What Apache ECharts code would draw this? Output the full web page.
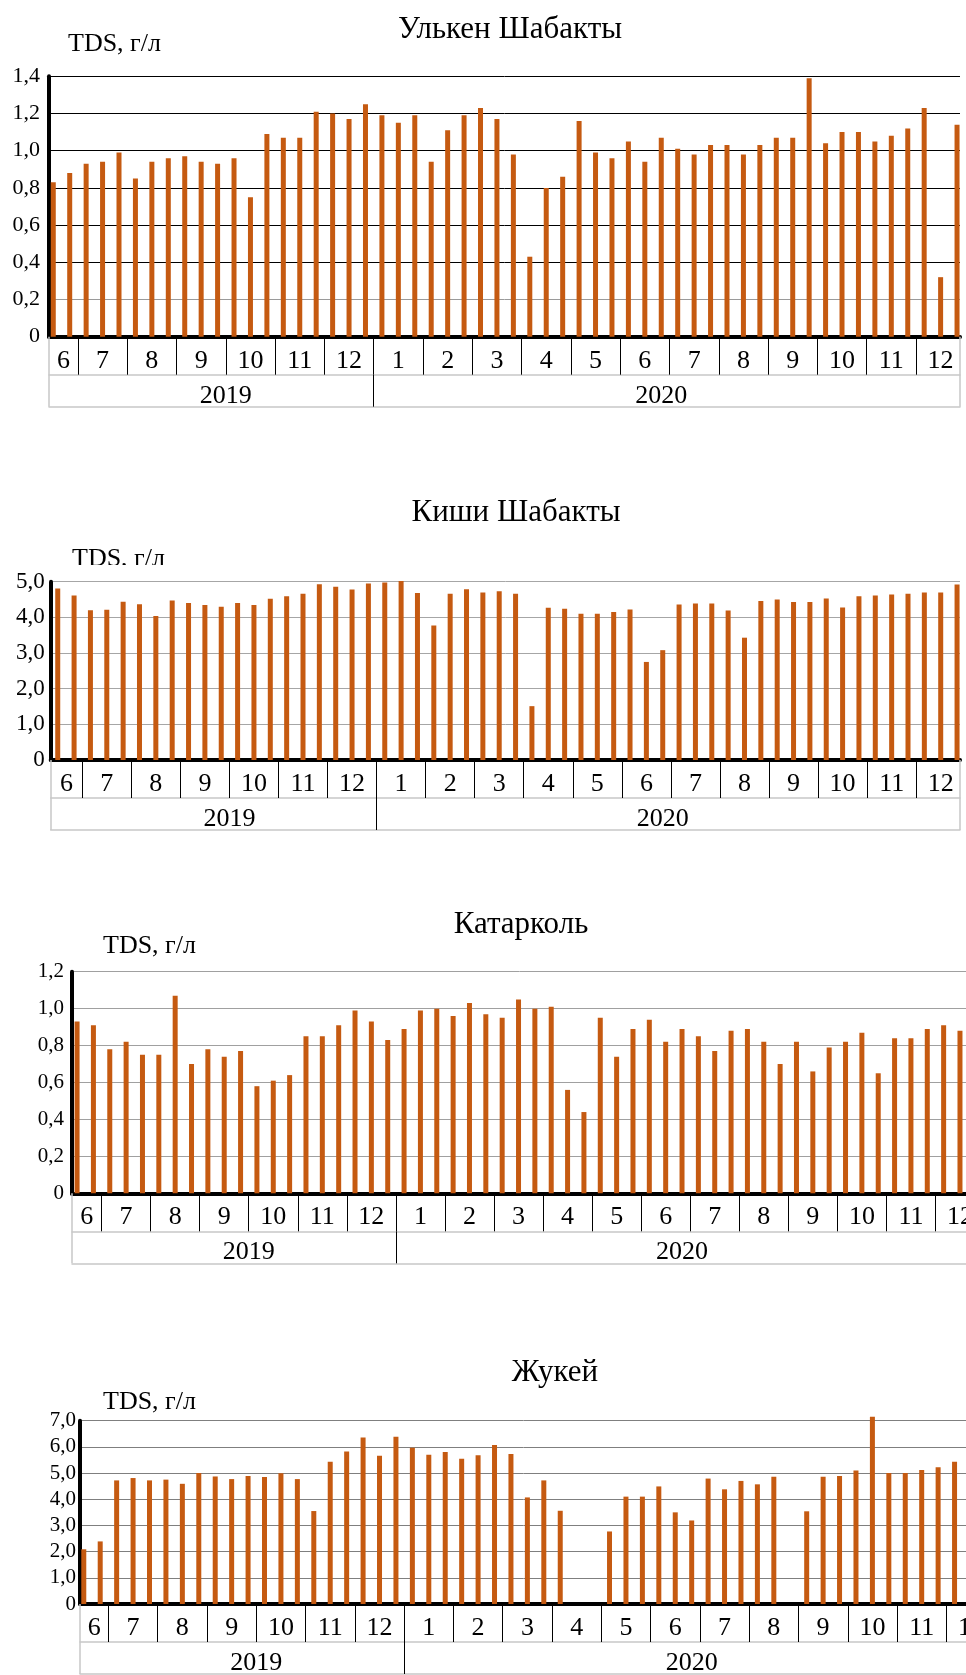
<!DOCTYPE html>
<html>
<head>
<meta charset="utf-8">
<script src="https://cdn.jsdelivr.net/npm/echarts@6/dist/echarts.min.js"></script>
<style>
html,body{margin:0;padding:0;background:#fff}
#c{width:966px;height:1675px}
</style>
</head>
<body>
<div id="c"></div>
<script>
// ---------------- DATA ----------------
const monthLabels = ['6','7','8','9','10','11','12','1','2','3','4','5','6','7','8','9','10','11','12'];
const barsPerMonth = [2,3,3,3,3,3,3,3,3,3,3,3,3,3,3,3,3,3,3];
const yearLabels = ['2019','2020'];
const monthsPerYear = [7,12];
const unitLabel = 'TDS, г/л';

const ulkenTitle = 'Улькен Шабакты';
const ulkenValues = [0.83,0.88,0.93,0.94,0.99,0.85,0.94,0.96,0.97,0.94,
  0.93,0.96,0.75,1.09,1.07,1.07,1.21,1.20,1.17,1.25,
  1.19,1.15,1.19,0.94,1.11,1.19,1.23,1.17,0.98,0.43,
  0.80,0.86,1.16,0.99,0.96,1.05,0.94,1.07,1.01,0.98,
  1.03,1.03,0.98,1.03,1.07,1.07,1.39,1.04,1.10,1.10,
  1.05,1.08,1.12,1.23,0.32,1.14];

const kishiTitle = 'Киши Шабакты';
const kishiValues = [4.81,4.61,4.20,4.21,4.44,4.37,4.04,4.47,4.40,4.35,
  4.30,4.40,4.35,4.52,4.59,4.66,4.93,4.86,4.78,4.95,
  4.98,5.02,4.68,3.77,4.66,4.79,4.70,4.73,4.66,1.51,
  4.27,4.24,4.10,4.10,4.15,4.22,2.75,3.08,4.36,4.39,
  4.39,4.19,3.43,4.46,4.50,4.43,4.43,4.53,4.28,4.59,
  4.61,4.64,4.66,4.70,4.70,4.92];

const katarkolTitle = 'Катарколь';
const katarkolValues = [0.93,0.91,0.78,0.82,0.75,0.75,1.07,0.70,0.78,0.74,
  0.77,0.58,0.61,0.64,0.85,0.85,0.91,0.99,0.93,0.83,
  0.89,0.99,1.00,0.96,1.03,0.97,0.95,1.05,1.00,1.01,
  0.56,0.44,0.95,0.74,0.89,0.94,0.82,0.89,0.85,0.77,
  0.88,0.89,0.82,0.70,0.82,0.66,0.79,0.82,0.87,0.65,
  0.84,0.84,0.89,0.91,0.88];

const zhukeiTitle = 'Жукей';
const zhukeiValues = [2.09,2.39,4.72,4.81,4.72,4.75,4.59,5.00,4.87,4.77,
  4.89,4.85,4.99,4.77,3.55,5.43,5.82,6.36,5.66,6.39,
  5.97,5.70,5.80,5.55,5.68,6.07,5.73,4.07,4.72,3.56,
  null,null,2.77,4.10,4.10,4.49,3.50,3.19,4.79,4.38,
  4.70,4.57,4.86,null,3.54,4.86,4.89,5.10,7.15,5.00,
  5.00,5.12,5.22,5.43];

// ---------------- LAYOUT / STYLE ----------------
const BAR_COLOR = '#C55A11';
const SERIF = '"Liberation Serif", "Times New Roman", serif';
const yearLabelAt = [10.5, 37];

const charts = [
  {title: ulkenTitle, values: ulkenValues, yMax: 1.4, yStep: 0.2,
   top: 76.3, height: 260.4, left: 49, width: 911, xMin: -0.26, xMax: 55.18,
   gridColors: ['#000','#9a9a9a','#000','#000','#000','#000','#000','#000'],
   titleX: 510, titleY: 30, tdsX: 68, tdsY: 44.5, yFont: 22, yMargin: 9},
  {title: kishiTitle, values: kishiValues, yMax: 5, yStep: 1,
   top: 581.7, height: 178.3, left: 50.7, width: 909.3, xMin: -0.43, xMax: 55.18,
   gridColors: ['#a6a6a6'],
   titleX: 516, titleY: 512.5, tdsX: 72, tdsY: 559, yFont: 23, yMargin: 6, clipTds: true},
  {title: katarkolTitle, values: katarkolValues, yMax: 1.2, yStep: 0.2,
   top: 971.7, height: 221.6, left: 72, width: 907.6, xMin: -0.31, xMax: 55.2,
   gridColors: ['#a0a0a0'],
   titleX: 521, titleY: 924.5, tdsX: 103, tdsY: 946, yFont: 21, yMargin: 8},
  {title: zhukeiTitle, values: zhukeiValues, yMax: 7, yStep: 1,
   top: 1420.7, height: 183.3, left: 80, width: 910.7, xMin: -0.23, xMax: 55.2,
   gridColors: ['#7f7f7f'],
   titleX: 555, titleY: 1372.5, tdsX: 103, tdsY: 1402, yFont: 21, yMargin: 4}
];

const key = v => String(Math.round(v * 100));

function monthInfo(min) {
  const bounds = [], centers = [], map = {};
  let start = 0;
  barsPerMonth.forEach((n, k) => {
    const lo = Math.max(start - 0.5, min), hi = start + n - 0.5;
    const c = (k === 0) ? (lo + hi) / 2 : start + (n - 1) / 2;
    centers.push(c); map[key(c)] = monthLabels[k];
    if (k < barsPerMonth.length - 1) bounds.push(hi);
    start += n;
  });
  return {bounds, centers, map};
}
function yearInfo() {
  const bounds = [], map = {};
  let m = 0, bars = 0;
  monthsPerYear.forEach((cnt, y) => {
    for (let j = 0; j < cnt; j++) bars += barsPerMonth[m + j];
    m += cnt;
    if (y < monthsPerYear.length - 1) bounds.push(bars - 0.5);
    map[key(yearLabelAt[y])] = yearLabels[y];
  });
  return {bounds, map};
}

const grids = [], xAxes = [], yAxes = [], series = [], graphics = [];
const yi = yearInfo();
charts.forEach((C, i) => {
  grids.push({left: C.left, top: C.top, width: C.width, height: C.height,
              containLabel: false, outerBoundsMode: 'none'});
  const mi = monthInfo(C.xMin);
  const base = xAxes.length;
  // main axis: bars + month row
  xAxes.push({gridIndex: i, type: 'value', min: C.xMin, max: C.xMax, position: 'bottom', offset: 0,
    axisLine: {show: true, onZero: false, lineStyle: {color: '#000', width: 4}},
    axisTick: {show: true, customValues: mi.bounds, length: 38, lineStyle: {color: '#000', width: 1}},
    axisLabel: {show: true, customValues: mi.centers, margin: 11, color: '#000',
      fontFamily: SERIF, fontSize: 26, formatter: v => mi.map[key(v)] || ''},
    splitLine: {show: false}});
  // year row
  xAxes.push({gridIndex: i, type: 'value', min: C.xMin, max: C.xMax, position: 'bottom', offset: 38,
    axisLine: {show: true, onZero: false, lineStyle: {color: '#c8c8c8', width: 1.5}},
    axisTick: {show: true, customValues: yi.bounds, length: 32, lineStyle: {color: '#000', width: 1}},
    axisLabel: {show: true, customValues: yearLabelAt, margin: 8, color: '#000',
      fontFamily: SERIF, fontSize: 26, formatter: v => yi.map[key(v)] || ''},
    splitLine: {show: false}});
  // table outer border
  xAxes.push({gridIndex: i, type: 'value', min: C.xMin, max: C.xMax, position: 'bottom', offset: 70,
    axisLine: {show: true, onZero: false, lineStyle: {color: '#c8c8c8', width: 1.5}},
    axisTick: {show: true, inside: true, customValues: [C.xMin, C.xMax], length: 70,
      lineStyle: {color: '#c8c8c8', width: 1.5}},
    axisLabel: {show: false}, splitLine: {show: false}});
  yAxes.push({gridIndex: i, type: 'value', min: 0, max: C.yMax, interval: C.yStep,
    axisLine: {show: true, onZero: false, lineStyle: {color: '#000', width: 4}},
    axisTick: {show: false},
    axisLabel: {margin: C.yMargin, color: '#000', fontFamily: SERIF, fontSize: C.yFont,
      padding: [4, 0, 0, 0],
      formatter: v => v === 0 ? '0' : v.toFixed(1).replace('.', ',')},
    splitLine: {show: true, lineStyle: {color: C.gridColors, width: 1}}});
  series.push({type: 'bar', xAxisIndex: base, yAxisIndex: i, barWidth: 5, silent: true, clip: false,
    itemStyle: {color: BAR_COLOR},
    data: C.values.map((v, k) => [k, v == null ? '-' : v])});
  graphics.push({type: 'text', x: C.titleX, y: C.titleY, z: 10,
    style: {text: C.title, fill: '#000', font: '31px ' + SERIF,
            textAlign: 'center', textVerticalAlign: 'middle', align: 'center', verticalAlign: 'middle'}});
  graphics.push({type: 'text', x: C.tdsX, y: C.tdsY, z: 10,
    style: {text: unitLabel, fill: '#000', font: '26px ' + SERIF,
            textAlign: 'left', textVerticalAlign: 'middle', align: 'left', verticalAlign: 'middle'}});
  if (C.clipTds) {
    graphics.push({type: 'rect', z: 11, shape: {x: C.tdsX - 10, y: C.tdsY + 6, width: 140, height: 15},
      style: {fill: '#fff'}});
  }
});

const chart = echarts.init(document.getElementById('c'), null, {renderer: 'canvas'});
chart.setOption({
  animation: false,
  backgroundColor: '#fff',
  grid: grids, xAxis: xAxes, yAxis: yAxes, series: series,
  graphic: {elements: graphics}
});
</script>
</body>
</html>
